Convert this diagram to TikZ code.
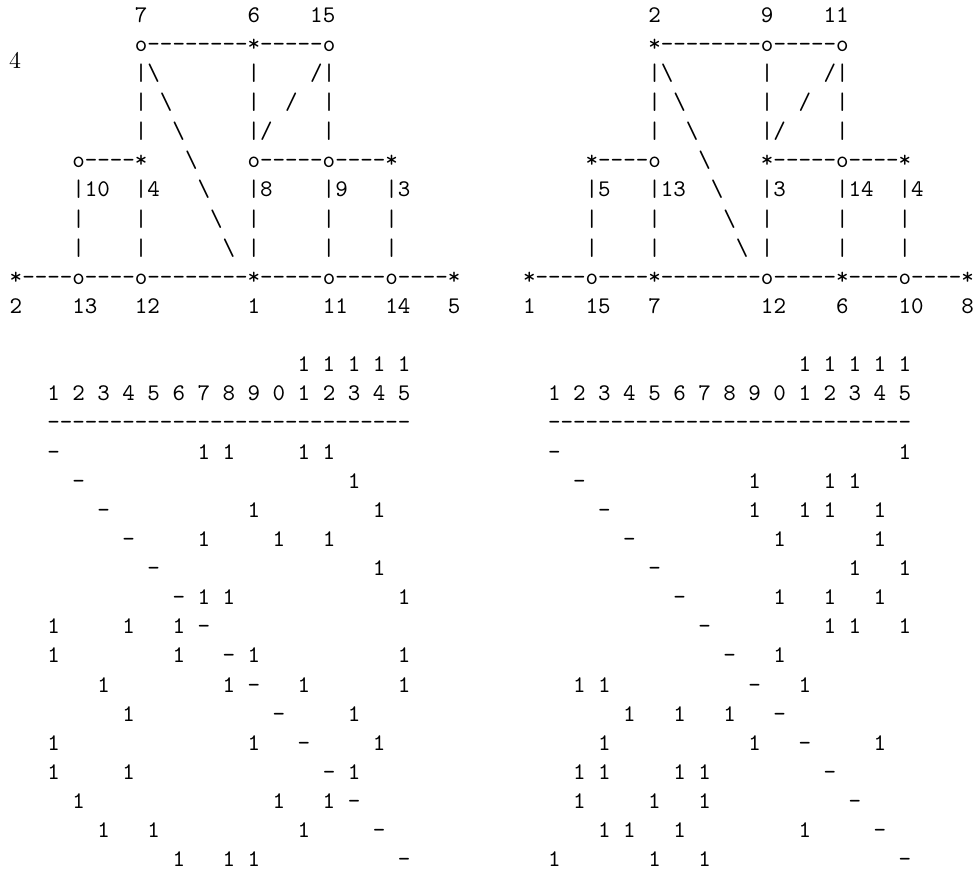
\documentclass[tikz,border=0pt]{standalone}
% one character cell per symbol: '.' = blank, 'B' = backslash
\def\asc#1{\ascl#1\relax}
\def\ascl#1{\ifx\relax#1\else\ascc#1\expandafter\ascl\fi}
\def\ascc#1{\ifx.#1\hphantom{0}\else\ifx B#1\hbox{\textbackslash}\else\hbox{#1}\fi\fi}
% matrix row: each symbol followed by one blank cell
\def\mrw#1{\mrwl#1\relax}
\def\mrwl#1{\ifx\relax#1\else\ascc#1\hphantom{0}\expandafter\mrwl\fi}
\tikzset{
  ascii/.style={anchor=base west, inner sep=0pt, outer sep=0pt, font=\fontsize{10}{12}\selectfont\ttfamily},
  serif/.style={anchor=base west, inner sep=0pt, outer sep=0pt, font=\fontsize{10}{12}\selectfont\rmfamily}
}
\begin{document}
\begin{tikzpicture}[x=0.4193pt,y=-0.4193pt]
\useasboundingbox (0,0) rectangle (980,878);
\node[serif] (fig) at (9,68.3) {4};
% left graph
\node[ascii] (gl0)  at (9.74,22.2)  {\asc{..........7........6....15}};
\node[ascii] (gl1)  at (9.74,51.3)  {\asc{..........o--------*-----o}};
\node[ascii] (gl2)  at (9.74,80.4)  {\asc{..........|B.......|..../|}};
\node[ascii] (gl3)  at (9.74,109.6) {\asc{..........|.B......|../..|}};
\node[ascii] (gl4)  at (9.74,138.7) {\asc{..........|..B.....|/....|}};
\node[ascii] (gl5)  at (9.74,167.8) {\asc{.....o----*...B....o-----o----*}};
\node[ascii] (gl6)  at (9.74,196.9) {\asc{.....|10..|4...B...|8....|9...|3}};
\node[ascii] (gl7)  at (9.74,226.0) {\asc{.....|....|.....B..|.....|....|}};
\node[ascii] (gl8)  at (9.74,255.2) {\asc{.....|....|......B.|.....|....|}};
\node[ascii] (gl9)  at (9.74,284.3) {\asc{*----o----o--------*-----o----o----*}};
\node[ascii] (gl10) at (9.74,313.4) {\asc{2....13...12.......1.....11...14...5}};
% right graph
\node[ascii] (gr0)  at (523.1,22.2)  {\asc{..........2........9....11}};
\node[ascii] (gr1)  at (523.1,51.3)  {\asc{..........*--------o-----o}};
\node[ascii] (gr2)  at (523.1,80.4)  {\asc{..........|B.......|..../|}};
\node[ascii] (gr3)  at (523.1,109.6) {\asc{..........|.B......|../..|}};
\node[ascii] (gr4)  at (523.1,138.7) {\asc{..........|..B.....|/....|}};
\node[ascii] (gr5)  at (523.1,167.8) {\asc{.....*----o...B....*-----o----*}};
\node[ascii] (gr6)  at (523.1,196.9) {\asc{.....|5...|13..B...|3....|14..|4}};
\node[ascii] (gr7)  at (523.1,226.0) {\asc{.....|....|.....B..|.....|....|}};
\node[ascii] (gr8)  at (523.1,255.2) {\asc{.....|....|......B.|.....|....|}};
\node[ascii] (gr9)  at (523.1,284.3) {\asc{*----o----*--------o-----*----o----*}};
\node[ascii] (gr10) at (523.1,313.4) {\asc{1....15...7........12....6....10...8}};
% left matrix
\node[ascii] (mlh1) at (47.3,371.6) {\mrw{..........11111}};
\node[ascii] (mlh2) at (47.3,400.7) {\mrw{123456789012345}};
\node[ascii] (mlhr) at (47.3,429.9) {\asc{-----------------------------}};
\node[ascii] (ml1)  at (47.3,459.0) {\mrw{-.....11..11...}};
\node[ascii] (ml2)  at (47.3,488.1) {\mrw{.-..........1..}};
\node[ascii] (ml3)  at (47.3,517.2) {\mrw{..-.....1....1.}};
\node[ascii] (ml4)  at (47.3,546.4) {\mrw{...-..1..1.1...}};
\node[ascii] (ml5)  at (47.3,575.5) {\mrw{....-........1.}};
\node[ascii] (ml6)  at (47.3,604.6) {\mrw{.....-11......1}};
\node[ascii] (ml7)  at (47.3,633.7) {\mrw{1..1.1-........}};
\node[ascii] (ml8)  at (47.3,662.8) {\mrw{1....1.-1.....1}};
\node[ascii] (ml9)  at (47.3,692.0) {\mrw{..1....1-.1...1}};
\node[ascii] (ml10) at (47.3,721.1) {\mrw{...1.....-..1..}};
\node[ascii] (ml11) at (47.3,750.2) {\mrw{1.......1.-..1.}};
\node[ascii] (ml12) at (47.3,779.3) {\mrw{1..1.......-1..}};
\node[ascii] (ml13) at (47.3,808.4) {\mrw{.1.......1.1-..}};
\node[ascii] (ml14) at (47.3,837.6) {\mrw{..1.1.....1..-.}};
\node[ascii] (ml15) at (47.3,866.7) {\mrw{.....1.11.....-}};
% right matrix
\node[ascii] (mrh1) at (548.1,371.6) {\mrw{..........11111}};
\node[ascii] (mrh2) at (548.1,400.7) {\mrw{123456789012345}};
\node[ascii] (mrhr) at (548.1,429.9) {\asc{-----------------------------}};
\node[ascii] (mr1)  at (548.1,459.0) {\mrw{-.............1}};
\node[ascii] (mr2)  at (548.1,488.1) {\mrw{.-......1..11..}};
\node[ascii] (mr3)  at (548.1,517.2) {\mrw{..-.....1.11.1.}};
\node[ascii] (mr4)  at (548.1,546.4) {\mrw{...-.....1...1.}};
\node[ascii] (mr5)  at (548.1,575.5) {\mrw{....-.......1.1}};
\node[ascii] (mr6)  at (548.1,604.6) {\mrw{.....-...1.1.1.}};
\node[ascii] (mr7)  at (548.1,633.7) {\mrw{......-....11.1}};
\node[ascii] (mr8)  at (548.1,662.8) {\mrw{.......-.1.....}};
\node[ascii] (mr9)  at (548.1,692.0) {\mrw{.11.....-.1....}};
\node[ascii] (mr10) at (548.1,721.1) {\mrw{...1.1.1.-.....}};
\node[ascii] (mr11) at (548.1,750.2) {\mrw{..1.....1.-..1.}};
\node[ascii] (mr12) at (548.1,779.3) {\mrw{.11..11....-...}};
\node[ascii] (mr13) at (548.1,808.4) {\mrw{.1..1.1.....-..}};
\node[ascii] (mr14) at (548.1,837.6) {\mrw{..11.1....1..-.}};
\node[ascii] (mr15) at (548.1,866.7) {\mrw{1...1.1.......-}};
\end{tikzpicture}
\end{document}
